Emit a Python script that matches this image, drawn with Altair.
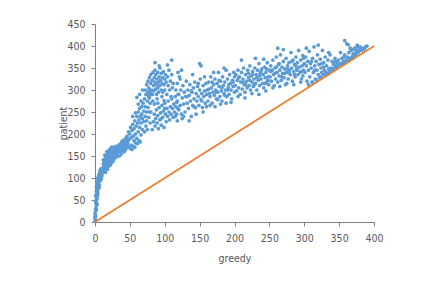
import altair as alt
import pandas as pd

# (greedy, patient) pairs, grouped by x range
seg_a = [(0,3),(0,9),(1,14),(0,20),(1,26),(1,31),(2,37),(1,44),(2,50),(2,55),(3,58),(2,63),(3,67),(3,71),(4,74),(2,78),(4,80),(3,84),(5,86),(4,89),(5,92),(4,95),(6,97),(5,100),(6,103),(7,105),(6,108),(7,110),(8,112),(1,60),(2,70),(3,90),(4,62),(5,77),(6,85),(3,52),(2,43),(4,100),(5,104),(6,92),(7,98),(8,104),(7,116),(8,95),(9,108),(9,118),(10,113),(10,121),(1,5),(0,12),(2,28),(3,40),(1,48),(4,68),(5,82),(6,79),(8,120),(9,99),(10,105),(11,119)]
seg_b = [(11,112),(12,125),(12,132),(13,118),(13,140),(14,128),(14,135),(15,122),(15,145),(16,131),(16,150),(17,138),(17,127),(18,143),(18,155),(19,134),(19,148),(20,140),(20,160),(21,137),(21,152),(22,146),(22,130),(23,158),(23,142),(24,150),(24,163),(25,140),(25,155),(26,148),(26,168),(27,152),(27,160),(28,145),(28,170),(29,156),(29,163),(30,150),(30,172),(31,160),(31,148),(32,165),(32,155),(33,170),(33,158),(34,162),(34,175),(35,150),(35,168),(36,172),(36,160),(37,178),(37,165),(38,155),(38,182),(39,170),(39,163),(40,175),(40,185),(41,168),(42,178),(42,160),(43,188),(43,172),(44,165),(44,180),(45,170),(45,192),(46,178),(47,185),(15,113),(18,120),(20,127),(23,133),(26,138),(14,152),(17,160),(21,165),(24,170),(12,141)]
seg_c = [(48,172),(50,168),(52,175),(53,165),(55,172),(57,170),(46,195),(48,205),(49,188),(50,200),(51,215),(52,192),(53,208),(54,222),(55,195),(56,212),(57,230),(58,200),(59,218),(60,240),(60,190),(61,225),(62,205),(62,250),(63,232),(64,215),(64,258),(65,240),(66,198),(66,225),(67,262),(67,245),(68,210),(68,235),(69,270),(70,252),(70,228),(71,205),(71,280),(72,240),(72,262),(73,218),(73,290),(74,250),(74,230),(75,275),(75,210),(76,260),(76,295),(77,238),(77,285),(78,250),(78,300),(79,225),(79,270),(80,290),(44,185),(47,180),(56,185),(58,180),(61,178),(63,185),(65,182),(54,240),(58,248),(62,268),(66,275),(60,283),(64,290),(68,300)]
seg_d = [(72,300),(74,312),(75,290),(76,320),(77,305),(78,328),(79,295),(80,315),(80,335),(81,300),(82,322),(82,290),(83,340),(84,310),(84,298),(85,328),(86,318),(86,345),(87,302),(87,335),(88,312),(88,290),(89,325),(90,340),(90,305),(91,318),(91,295),(92,330),(93,310),(93,350),(94,322),(95,300),(95,338),(96,315),(97,328),(97,295),(98,342),(99,312),(100,325),(100,300),(101,335),(102,318),(103,290),(104,330),(105,310),(106,345),(107,300),(108,320),(109,285),(110,335),(111,305),(112,315),(86,362),(110,368),(92,355),(104,357),(78,282),(83,275),(89,280),(96,285),(85,268),(99,276)]
seg_e = [(82,210),(84,228),(85,245),(86,218),(87,235),(88,255),(89,225),(90,242),(91,212),(92,260),(93,232),(94,248),(95,220),(96,265),(97,238),(98,252),(99,215),(100,270),(101,245),(102,228),(103,258),(104,240),(105,275),(106,250),(107,232),(108,262),(109,245),(110,280),(111,258),(112,238),(113,268),(114,250),(115,285),(116,262),(117,245),(118,275),(119,290),(120,255),(80,250),(95,235),(100,258),(90,270)]
seg_f = [(115,240),(116,300),(117,272),(118,315),(119,258),(120,290),(121,330),(122,265),(123,300),(124,245),(125,282),(126,310),(127,268),(128,295),(129,250),(130,285),(131,320),(132,270),(133,300),(134,258),(135,288),(136,312),(137,275),(138,240),(139,295),(140,265),(141,305),(142,280),(143,318),(144,260),(145,292),(146,275),(147,308),(148,285),(149,265),(150,300),(151,325),(152,278),(153,292),(154,260),(155,310),(156,285),(157,298),(158,270),(159,315),(160,290),(125,235),(135,230),(145,245),(155,250),(122,325),(140,335),(150,360),(152,355),(124,345),(119,340),(157,330),(118,230),(132,285),(138,298),(142,262),(148,315),(153,275),(127,240),(160,262)]
seg_g = [(161,300),(162,275),(163,318),(164,292),(165,285),(166,330),(167,305),(168,270),(169,295),(170,312),(171,288),(172,325),(173,300),(174,280),(175,315),(176,295),(177,340),(178,308),(179,285),(180,320),(181,298),(182,275),(183,330),(184,310),(185,292),(186,318),(187,300),(188,345),(189,285),(190,325),(191,305),(192,290),(193,335),(194,315),(195,300),(196,280),(197,322),(198,308),(199,340),(200,295),(165,265),(172,262),(180,268),(188,270),(195,272),(170,340),(185,350),(176,278),(182,305),(190,300),(198,318),(163,302),(168,318),(174,295),(186,288),(192,312),(200,330),(178,322)]
seg_h = [(201,310),(202,335),(203,298),(204,322),(205,345),(206,305),(207,330),(208,290),(209,318),(210,340),(211,302),(212,325),(213,350),(214,312),(215,295),(216,335),(217,320),(218,305),(219,345),(220,328),(221,310),(222,355),(223,300),(224,332),(225,318),(226,342),(227,308),(228,325),(229,350),(230,315),(231,335),(232,300),(233,345),(234,322),(235,360),(236,310),(237,338),(238,325),(239,348),(240,315),(241,335),(242,305),(243,352),(244,328),(245,340),(246,318),(247,362),(248,330),(249,312),(250,345),(205,285),(215,282),(225,292),(235,290),(245,298),(210,368),(230,372),(242,370),(220,338),(228,312),(238,342),(248,322),(212,318),(222,322),(232,328),(244,315),(206,328),(216,312),(226,335),(236,332),(246,348)]
seg_i = [(251,330),(252,355),(253,320),(254,345),(255,368),(256,335),(257,310),(258,350),(259,325),(260,375),(261,340),(262,318),(263,358),(264,332),(265,345),(266,380),(267,322),(268,352),(269,338),(270,365),(271,328),(272,348),(273,312),(274,372),(275,340),(276,355),(277,325),(278,362),(279,345),(280,335),(281,385),(282,350),(283,320),(284,368),(285,342),(286,358),(287,330),(288,375),(289,348),(290,362),(291,335),(292,390),(293,352),(294,340),(295,368),(296,325),(297,355),(298,378),(299,345),(300,360),(255,305),(265,308),(275,315),(285,312),(295,318),(262,395),(270,392),(258,338),(268,330),(278,340),(288,355),(298,332),(252,342),(264,360),(276,348),(286,335),(296,342),(260,352),(272,338),(282,365),(290,345),(299,372)]
seg_j = [(301,340),(302,375),(303,355),(304,320),(305,365),(306,345),(307,388),(308,330),(309,360),(310,350),(311,318),(312,372),(313,340),(314,398),(315,355),(316,325),(317,365),(318,345),(319,380),(320,335),(321,358),(322,328),(323,370),(324,350),(325,340),(326,390),(327,335),(328,362),(329,345),(330,375),(331,340),(332,355),(333,338),(334,368),(335,348),(336,342),(337,380),(338,350),(339,345),(340,365),(341,348),(342,358),(343,350),(344,372),(345,355),(346,352),(347,362),(348,355),(349,368),(350,358),(306,312),(312,318),(318,322),(324,330),(330,335),(336,340),(342,346),(348,352),(303,395),(320,402),(310,365),(325,360),(335,385),(345,365),(315,345),(328,352)]
seg_k = [(352,360),(354,372),(355,358),(356,365),(358,380),(359,362),(360,368),(361,405),(362,375),(363,366),(364,385),(365,370),(366,372),(367,390),(368,375),(369,372),(370,382),(371,378),(372,395),(373,380),(374,385),(375,382),(376,398),(377,385),(378,388),(380,392),(382,390),(384,395),(386,393),(388,398),(358,412),(363,403),(370,392),(376,402),(352,385),(357,375),(366,395),(380,398),(390,400),(375,390)]

diag_x = [0, 400]
diag_y = [0, 400]

x_ticks = [0, 50, 100, 150, 200, 250, 300, 350, 400]
y_ticks = [0, 50, 100, 150, 200, 250, 300, 350, 400, 450]

segments = [seg_a, seg_b, seg_c, seg_d, seg_e, seg_f, seg_g, seg_h, seg_i, seg_j, seg_k]
greedy = [p[0] for s in segments for p in s]
patient = [p[1] for s in segments for p in s]

pts = pd.DataFrame({"greedy": greedy, "patient": patient})
diag = pd.DataFrame({"greedy": diag_x, "patient": diag_y})

FONT = "Liberation Sans Narrow, DejaVu Sans Condensed, Liberation Sans, sans-serif"
GRAY = "#595959"

xscale = alt.Scale(domain=[0, 400], nice=False, zero=True)
yscale = alt.Scale(domain=[0, 450], nice=False, zero=True)

common = dict(grid=False, tickSize=4, labelOverlap=False, labelFlush=False,
              domainColor="#7f7f7f", tickColor="#7f7f7f", labelColor=GRAY, titleColor=GRAY,
              labelFont=FONT, titleFont=FONT, labelFontSize=10.5, titleFontSize=10.5,
              titleFontWeight="normal", titleBaseline="middle")
xaxis = alt.Axis(values=x_ticks, labelPadding=7, titleY=36, **common)
yaxis = alt.Axis(values=y_ticks, labelPadding=6, titleX=-32, **common)

points = alt.Chart(pts).mark_circle(size=14, color="#5B9BD5", opacity=1).encode(
    x=alt.X("greedy:Q", scale=xscale, axis=xaxis, title="greedy"),
    y=alt.Y("patient:Q", scale=yscale, axis=yaxis, title="patient"),
)

line = alt.Chart(diag).mark_line(color="#ED7D31", strokeWidth=1.8).encode(
    x=alt.X("greedy:Q", scale=xscale, axis=xaxis, title="greedy"),
    y=alt.Y("patient:Q", scale=yscale, axis=yaxis, title="patient"),
)

chart = alt.layer(points, line).properties(
    width=279, height=198,
    background="white",
    autosize=alt.AutoSizeParams(type="none"),
    padding={"left": 87, "top": 16, "right": 40, "bottom": 60},
).configure_view(stroke=None)

chart.save("out.html", embed_options={"renderer": "svg", "actions": False})
